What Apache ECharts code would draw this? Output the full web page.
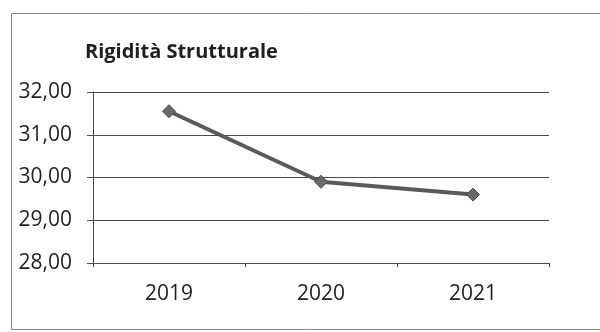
<!DOCTYPE html>
<html>
<head>
<meta charset="utf-8">
<style>
  html, body { margin: 0; padding: 0; background: #ffffff; }
  #chart { width: 600px; height: 332px; }
</style>
<script src="https://cdn.jsdelivr.net/npm/echarts@6/dist/echarts.min.js"></script>
</head>
<body>
<div id="chart"></div>
<script>
// Rigidità Strutturale, yearly values
const years = ['2019', '2020', '2021'];
const rigidita = [31.55, 29.9, 29.6];
const yMin = 28;
const yMax = 32;
const yStep = 1;

const ink = '#4a4a4a';
const textInk = '#1f1f1f';
const chart = echarts.init(document.getElementById('chart'), null, { renderer: 'canvas' });

chart.setOption({
  backgroundColor: '#ffffff',
  animation: false,
  title: {
    text: 'Rigidità Strutturale',
    left: 80,
    top: 37,
    textStyle: { fontFamily: 'Open Sans', fontWeight: 'bold', fontSize: 20, color: textInk }
  },
  graphic: [{
    type: 'rect',
    shape: { x: 11.5, y: 13.5, width: 620, height: 316 },
    style: { fill: 'none', stroke: '#8a8a8a', lineWidth: 1 },
    silent: true
  }],
  grid: { left: 93, right: 51, top: 92, bottom: 69 },
  xAxis: {
    type: 'category',
    data: years,
    boundaryGap: true,
    axisLine: { show: true, lineStyle: { color: ink, width: 1 } },
    axisTick: { show: true, length: 4, inside: false, lineStyle: { color: ink } },
    axisLabel: { margin: 21, fontFamily: 'Open Sans', fontSize: 21, color: textInk },
    splitLine: { show: false }
  },
  yAxis: {
    type: 'value',
    min: yMin,
    max: yMax,
    interval: yStep,
    axisLine: { show: true, lineStyle: { color: ink, width: 1 } },
    axisTick: { show: true, length: 6, lineStyle: { color: ink } },
    axisLabel: {
      margin: 21,
      fontFamily: 'Open Sans',
      fontSize: 21,
      color: textInk,
      formatter: v => v.toFixed(2).replace('.', ',')
    },
    splitLine: { show: true, lineStyle: { color: ink, width: 1 } }
  },
  series: [{
    type: 'line',
    data: rigidita,
    symbol: 'diamond',
    symbolSize: 13,
    lineStyle: { color: '#5a5a5a', width: 4 },
    itemStyle: { color: '#6a6a6a', borderColor: '#4a4a4a', borderWidth: 1 },
    label: { show: false }
  }]
});
</script>
</body>
</html>
